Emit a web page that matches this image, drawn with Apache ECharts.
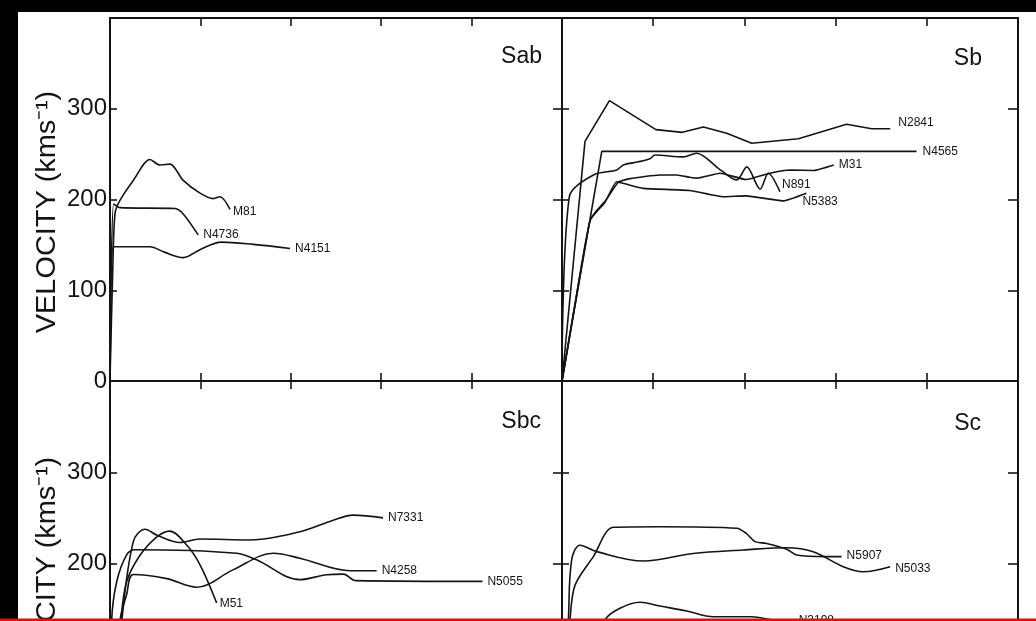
<!DOCTYPE html>
<html>
<head>
<meta charset="utf-8">
<style>
  html, body { margin: 0; padding: 0; background: #fff; }
  #chart { width: 1036px; height: 621px; }
</style>
<script src="https://cdn.jsdelivr.net/npm/echarts@6/dist/echarts.min.js"></script>
</head>
<body>
<div id="chart"></div>
<script>
// Rotation curves: [radius (kpc), velocity (km/s)]
// Sab
const m81   = [[0,0],[0.15,120],[0.28,185],[0.55,199],[1.29,221],[2.21,244],[2.77,238],[3.32,239],[4.05,221],[4.98,207],[5.71,201],[6.08,203],[6.64,189]];
const n4736 = [[0,0],[0.2,195],[0.55,191],[3.6,190],[4.05,184],[4.88,161]];
const n4151 = [[0,0],[0.18,148],[2.2,148],[3.0,142],[4.05,136],[5.0,145],[6.17,153],[7.93,150.5],[9.96,146]];
// Sb
const n2841 = [[0,0],[1.26,264],[2.6,309],[5.15,277],[6.6,274],[7.75,280],[9.03,273],[10.4,262],[12.96,267],[15.6,283],[16.98,278],[18,278]];
const n4565 = [[0,0],[2.18,253],[19.44,253]];
const m31   = [[0,0],[0.8,95],[1.54,177],[1.9,188],[2.36,198],[3.09,219],[3.73,223],[5.37,227],[6.29,227],[7.0,224.5],[7.38,223.5],[8.66,229],[10.1,222],[11.4,229],[12.5,232.5],[13.8,232],[14.9,238]];
const n891  = [[0,0],[0.4,203],[1.72,227],[3.0,232.5],[3.36,238],[4.18,241.5],[4.82,245],[5.1,249],[6.65,247],[7.38,251],[8.66,233],[9.58,221.5],[10.13,236],[10.86,211.5],[11.31,229],[11.95,208.5]];
const n5383 = [[0,0],[0.8,95],[1.54,177],[2.36,197],[3.0,219.5],[3.5,217],[4.46,212.3],[7.0,210],[8.85,203],[10.1,204],[12.1,198.5],[13.4,207]];
// Sbc
const n7331 = [[0,0],[0.65,137],[1.29,224],[1.94,237.5],[2.6,231],[3.87,223],[4.98,226.8],[7.74,225.8],[10.5,234.8],[12.35,247.5],[13.46,253],[15.1,250]];
const n4258 = [[0,0],[0.55,137],[0.92,166],[1.29,188],[3.14,183.4],[4.8,174],[6.8,193],[9.03,211.2],[10.5,205.8],[13.3,192],[14.75,192]];
const n5055 = [[0,0],[0.09,137],[0.37,180],[0.92,209.4],[1.38,215],[7.0,211.2],[8.1,204],[10.5,182.3],[12.0,187.7],[12.9,188.4],[13.6,181.2],[20.6,180.4]];
const m51   = [[0,0],[0.6,137],[0.92,180],[1.66,209],[2.58,229],[3.3,235.5],[4.24,220.3],[4.98,198.6],[5.9,156.8]];
// Sc
const n5907 = [[0,0],[0.44,138],[0.71,176],[1.72,207.5],[2.81,239.7],[5.37,240.3],[9.58,238.6],[10.1,233],[10.58,224],[11.22,222],[12.32,215.6],[12.87,209.3],[14.5,207.5],[15.33,207.5]];
const n5033 = [[0,0],[0.35,138],[0.53,204],[0.99,220],[1.9,213],[4.46,202.7],[7.2,211],[9.94,214.8],[12.32,217.3],[13.77,213],[15.42,196.5],[16.52,191],[17.99,196.5]];
const n3198 = [[0,0],[1.5,80],[2.36,138],[3.18,151],[4.28,157.5],[5.37,153.4],[6.84,148],[8.3,141.7],[10.4,141.7],[11.6,138],[12.7,137]];

const panelNames = ['Sab', 'Sb', 'Sbc', 'Sc'];
const velocityLabels = [0, 100, 200, 300];
const velocityTicks = [100, 200, 300];
const radiusTicks = [5, 10, 15, 20];
const axisTitle = 'VELOCITY (kms\u207B\u00B9)';

// [name, data, panel, smooth, label offset]
const curves = [
  ['M81', m81, 0, 0.3, [-2, 2]],
  ['N4736', n4736, 0, 0.25, [0, 0]],
  ['N4151', n4151, 0, 0.35, [0, 0]],
  ['N2841', n2841, 1, 0, [3, -6]],
  ['N4565', n4565, 1, 0, [1, 0]],
  ['M31', m31, 1, 0.15, [0, 0]],
  ['N891', n891, 1, 0.3, [-3, -7]],
  ['N5383', n5383, 1, 0.15, [-9, 9]],
  ['N7331', n7331, 2, 0.35, [0, 0]],
  ['N4258', n4258, 2, 0.35, [0, 0]],
  ['N5055', n5055, 2, 0.35, [0, 0]],
  ['M51', m51, 2, 0.35, [-2, 1]],
  ['N5907', n5907, 3, 0.3, [0, -1]],
  ['N5033', n5033, 3, 0.35, [0, 2]],
  ['N3198', n3198, 3, 0.35, [0, 0]]
];

const INK = '#141414';
const FONT = '"Liberation Sans", Arial, sans-serif';

// The lower row runs below the bottom edge of the page, as in the cropped print.
const grids = [
  { left: 110, top: 18, width: 452, height: 363, outerBoundsMode: 'none' },
  { left: 562, top: 18, width: 456, height: 363, outerBoundsMode: 'none' },
  { left: 110, top: 381, width: 452, height: 365, outerBoundsMode: 'none' },
  { left: 562, top: 381, width: 456, height: 365, outerBoundsMode: 'none' }
];

function xAxis(grid, position, inside, len) {
  return {
    type: 'value', gridIndex: grid, position: position, min: 0, max: 25, interval: 5,
    axisLine: { show: true, onZero: false, lineStyle: { color: INK, width: 2 } },
    axisTick: { show: true, inside: inside, length: len, customValues: radiusTicks, lineStyle: { color: INK, width: 1.6 } },
    axisLabel: { show: false },
    splitLine: { show: false }
  };
}
function yAxis(grid, position, inside, len, labels) {
  return {
    type: 'value', gridIndex: grid, position: position, min: 0, max: 400, interval: 100,
    axisLine: { show: true, onZero: false, lineStyle: { color: INK, width: 2 } },
    axisTick: { show: true, inside: inside, length: len, customValues: velocityTicks, lineStyle: { color: INK, width: 1.6 } },
    axisLabel: labels ? { show: true, customValues: velocityLabels, margin: 3, color: INK, fontFamily: FONT, fontSize: 24 } : { show: false },
    splitLine: { show: false }
  };
}

const xAxes = [
  xAxis(0, 'bottom', false, 8), // 0: Sab baseline
  xAxis(0, 'top', true, 8),
  xAxis(1, 'bottom', false, 8), // 2: Sb baseline
  xAxis(1, 'top', true, 8),
  xAxis(2, 'top', false, 8),    // 4: Sbc
  xAxis(3, 'top', false, 8)     // 5: Sc
];
const yAxes = [
  yAxis(0, 'left', true, 7, true),
  yAxis(0, 'right', true, 9, false),
  yAxis(1, 'left', true, 7, false),
  yAxis(1, 'right', true, 10, false),
  yAxis(2, 'left', true, 7, true),
  yAxis(2, 'right', true, 9, false),
  yAxis(3, 'left', true, 7, false),
  yAxis(3, 'right', true, 10, false)
];
const xIndexForPanel = [0, 2, 4, 5];
const yIndexForPanel = [0, 2, 4, 6];

const series = curves.map(function (c) {
  return {
    type: 'line', name: c[0], data: c[1],
    xAxisIndex: xIndexForPanel[c[2]], yAxisIndex: yIndexForPanel[c[2]],
    smooth: c[3], symbol: 'none', silent: true,
    lineStyle: { color: INK, width: 1.6 },
    endLabel: {
      show: true, formatter: c[0], distance: 5, offset: c[4],
      color: INK, fontFamily: FONT, fontSize: 12
    }
  };
});

function panelTitle(text, x, y) {
  return { type: 'text', x: x, y: y, silent: true,
    style: { text: text, fill: INK, font: '23px ' + FONT, align: 'right', verticalAlign: 'middle' } };
}
function velocityTitle(y) {
  return { type: 'text', x: 48, y: y, rotation: Math.PI / 2, scaleX: 1.07, silent: true,
    style: { text: axisTitle, fill: INK, font: '27px ' + FONT, align: 'center', verticalAlign: 'middle' } };
}

const chart = echarts.init(document.getElementById('chart'), null, { renderer: 'canvas' });
chart.setOption({
  backgroundColor: '#ffffff',
  animation: false,
  grid: grids,
  xAxis: xAxes,
  yAxis: yAxes,
  series: series,
  graphic: [
    panelTitle(panelNames[0], 542, 56.5),
    panelTitle(panelNames[1], 982, 59),
    panelTitle(panelNames[2], 541, 421.5),
    panelTitle(panelNames[3], 981, 424),
    velocityTitle(212),
    velocityTitle(578),
    { type: 'rect', z: 100, silent: true, shape: { x: 0, y: 0, width: 18, height: 621 }, style: { fill: '#000' } },
    { type: 'rect', z: 100, silent: true, shape: { x: 0, y: 0, width: 1036, height: 12 }, style: { fill: '#000' } },
    { type: 'rect', z: 101, silent: true, shape: { x: 0, y: 618.5, width: 1036, height: 2.5 }, style: { fill: '#ff0000' } }
  ]
});
</script>
</body>
</html>
